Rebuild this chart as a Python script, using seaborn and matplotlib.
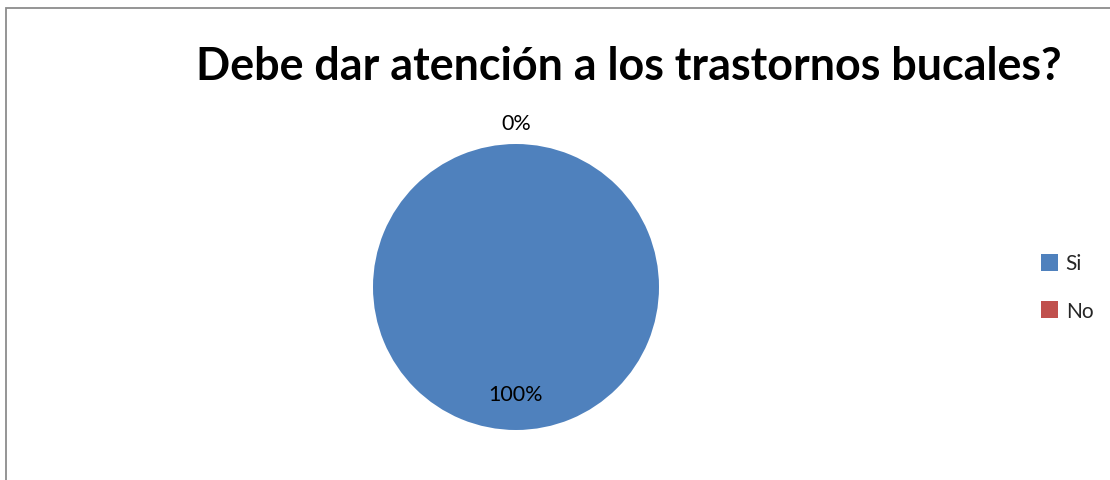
import matplotlib
matplotlib.use("Agg")
import matplotlib.pyplot as plt
import matplotlib.patches as mpatches
import numpy as np
import seaborn as sns

# Survey answers
categories = ["Si", "No"]
percentages = [100, 0]
title = "Debe dar atención a los trastornos bucales?"

sns.set_theme(style="white")
plt.rcParams["font.family"] = ["Lato", "DejaVu Sans"]

colors = ["#4F81BD", "#C0504D"]

W, H = 1110, 481
fig = plt.figure(figsize=(W / 100, H / 100), dpi=100)
fig.patch.set_facecolor("white")

# Chart area border
border = mpatches.Rectangle((5.5 / W, -0.05), 1.2, (H - 8.5) / H + 0.05,
                            transform=fig.transFigure, fill=False,
                            edgecolor="#8c8c8c", linewidth=1.3)
fig.add_artist(border)

# Pie axes (square in pixels)
left, right, top, bottom = 373, 659, 145, 431
ax = fig.add_axes([left / W, (H - bottom) / H, (right - left) / W, (bottom - top) / H])
wedges, _ = ax.pie(percentages, colors=colors, startangle=90, counterclock=False,
                   radius=1.0, wedgeprops=dict(linewidth=0))
ax.set_xlim(-1, 1)
ax.set_ylim(-1, 1)
ax.set_aspect("equal")
ax.axis("off")

# Percentage labels: small slices outside, large slices inside
for w, p in zip(wedges, percentages):
    mid = np.deg2rad((w.theta1 + w.theta2) / 2)
    r = 1.147 if p < 5 else 0.75
    ax.text(r * np.cos(mid), r * np.sin(mid), f"{p}%", ha="center", va="center",
            fontsize=15.5, color="black", clip_on=False)

fig.text(629 / W, (H - 67) / H, title, ha="center", va="center",
         fontsize=32.3, fontweight="bold", color="black")

handles = [mpatches.Patch(facecolor=c, edgecolor="none") for c in colors]
fig.legend(handles, categories, loc="center left",
           bbox_to_anchor=(1022 / W, (H - 288) / H), frameon=False,
           fontsize=15, handlelength=0.85, handleheight=0.85,
           handletextpad=0.35, labelspacing=1.3)

fig.savefig("out.png", dpi=100)
